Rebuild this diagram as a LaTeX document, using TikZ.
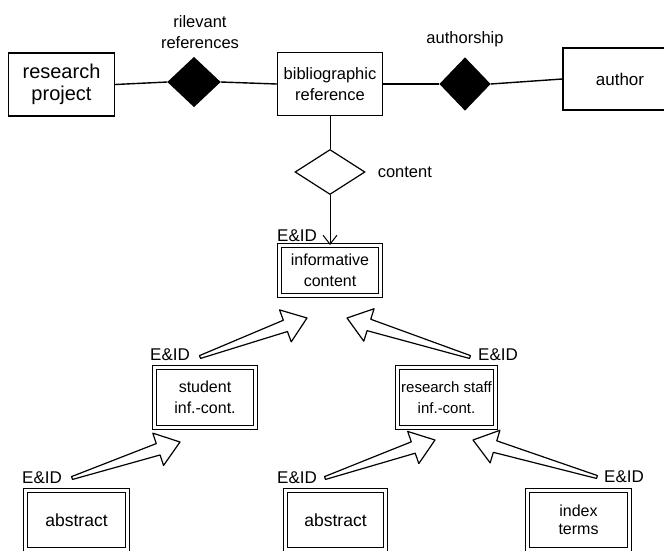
\documentclass[tikz,border=0pt]{standalone}
\usepackage{fontspec}
\setmainfont{Liberation Sans}
\usetikzlibrary{positioning}
\usetikzlibrary{shapes.geometric, arrows.meta, calc}

\tikzset{
  ent/.style={draw, line width=1.4pt, align=center, inner sep=0pt, font=\fontsize{16.5}{21}\selectfont},
  weak/.style={ent, double, double distance=3pt, line width=1.2pt},
  rel/.style={diamond, draw, line width=1.2pt, inner sep=0pt},
  lbl/.style={align=center, inner sep=0pt, font=\fontsize{16.5}{21}\selectfont},
  eid/.style={inner sep=0pt, font=\fontsize{17}{20}\selectfont},
  isa/.style={draw, line width=1.2pt, fill=white, line join=round},
}

\begin{document}
\begin{tikzpicture}[x=1pt,y=-1pt]
\useasboundingbox (0,0) rectangle (664,550);
\clip (0,0) rectangle (664,550);

% top row
\node[ent, minimum width=106pt, minimum height=63pt, font=\fontsize{20}{22}\selectfont] (proj) at (61.5,84.5) {research\\project};
\node[rel, fill=black, minimum width=52pt, minimum height=49pt] (relref) at (194,82) {};
\node[ent, minimum width=105pt, minimum height=63pt] (bib) at (330,84) {bibliographic\\reference};
\node[rel, fill=black, minimum width=50pt, minimum height=52pt] (authsh) at (465,84) {};
\node[ent, minimum width=114pt, minimum height=62pt, font=\fontsize{17}{20}\selectfont] (author) at (620,79) {author};
\node[lbl, above=8pt of relref, xshift=6pt] (relreflbl) {rilevant\\references};
\node[lbl, above=10pt of authsh] (authshlbl) {authorship};

\draw[line width=1.4pt] (proj.east) -- (relref.west);
\draw[line width=1.4pt] (relref.east) -- (bib.west);
\draw[line width=1.4pt] (bib.east) -- (authsh.west);
\draw[line width=1.4pt] (authsh.east) -- (author.west);

% content
\node[rel, fill=white, minimum width=70pt, minimum height=45pt] (cont) at (330,172) {};
\node[lbl, right=12pt of cont] (contlbl) {content};
\node[weak, minimum width=100.8pt, minimum height=49.8pt, font=\fontsize{16}{21}\selectfont] (info) at (330,270.5) {informative\\content};
\draw[line width=1pt] (bib.south) -- (cont.north);
\draw[line width=1pt, -{Straight Barb[length=9pt,width=14pt]}] (cont.south) -- (info.north);
\node[eid] (eidA) at (297,236) {E\&ID};

% sub entities
\node[weak, minimum width=100.8pt, minimum height=59.8pt, font=\fontsize{16}{21}\selectfont] (stud) at (205,397.5) {student\\inf.-cont.};
\node[weak, minimum width=97.8pt, minimum height=59.8pt, font=\fontsize{15}{21}\selectfont] (staff) at (446.5,397.5) {research staff\\inf.-cont.};
\node[eid] (eidB) at (170,355) {E\&ID};
\node[eid] (eidC) at (498,355) {E\&ID};

\node[weak, minimum width=101.8pt, minimum height=58.8pt, font=\fontsize{17.5}{21}\selectfont] (absA) at (76.5,520) {abstract};
\node[weak, minimum width=99.8pt, minimum height=58.8pt, font=\fontsize{17.5}{21}\selectfont] (absB) at (335.5,520) {abstract};
\node[weak, minimum width=101.8pt, minimum height=58.8pt, font=\fontsize{16}{18}\selectfont] (idx) at (578.5,520) {index\\terms};
\node[eid] (eidD) at (42,478) {E\&ID};
\node[eid] (eidE) at (297,478) {E\&ID};
\node[eid] (eidF) at (624,477) {E\&ID};

% hollow arrows
\coordinate (tlB) at ([xshift=10pt,yshift=-2pt]eidB.east);
\coordinate (tlC) at ([xshift=-8pt,yshift=-2pt]eidC.west);
\coordinate (tlD) at ([xshift=10pt]eidD.east);
\coordinate (tlE) at ([xshift=8pt]eidE.east);
\coordinate (tlF) at ([xshift=-7pt]eidF.west);
\coordinate (tpA) at (307,318);
\coordinate (tpB) at (347,318);
\coordinate (tpC) at (180,442);
\coordinate (tpD) at (435,440);
\coordinate (tpE) at (473,440);

\foreach \tl/\tp in {tlB/tpA, tlC/tpB, tlD/tpC, tlE/tpD, tlF/tpE}
  \draw[isa] ($(\tl)!1.5pt!90:(\tp)$) -- ($(\tp)!23pt!(\tl)!6pt!90:(\tp)$)
    -- ($(\tp)!23pt!(\tl)!17pt!90:(\tp)$) -- (\tp)
    -- ($(\tp)!23pt!(\tl)!17pt!-90:(\tp)$) -- ($(\tp)!23pt!(\tl)!6pt!-90:(\tp)$)
    -- ($(\tl)!1.5pt!-90:(\tp)$) -- cycle;

\end{tikzpicture}
\end{document}
